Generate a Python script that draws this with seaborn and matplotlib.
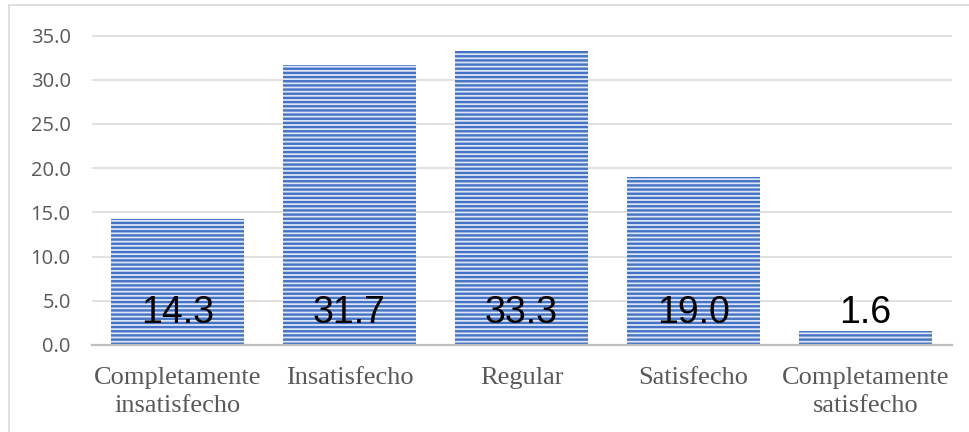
import matplotlib
matplotlib.use("Agg")
import matplotlib.pyplot as plt
from matplotlib.patches import Rectangle
from matplotlib.ticker import MultipleLocator, FormatStrFormatter
import seaborn as sns
import pandas as pd

categories = ["Completamente\ninsatisfecho", "Insatisfecho", "Regular",
              "Satisfecho", "Completamente\nsatisfecho"]
values = [14.3, 31.7, 33.3, 19.0, 1.6]
value_labels = ["14.3", "31.7", "33.3", "19.0", "1.6"]

sns.set_theme(style="white")
plt.rcParams["hatch.linewidth"] = 1.7

W, H = 969, 432
fig = plt.figure(figsize=(W / 100, H / 100), dpi=100)
ax = fig.add_axes([91.5 / W, 87 / H, 860 / W, 309.5 / H])

df = pd.DataFrame({"cat": categories, "val": values})
sns.barplot(data=df, x="cat", y="val", color="#dce6f7", saturation=1,
            width=0.773, ax=ax)

for p in ax.patches:
    p.set_hatch("----")
    p.set_edgecolor("#4472c4")
    p.set_linewidth(0)

ax.set_xlim(-0.5, 4.5)
ax.set_ylim(0, 35)
ax.yaxis.set_major_locator(MultipleLocator(5))
ax.yaxis.set_major_formatter(FormatStrFormatter("%.1f"))
ax.grid(axis="y", color="#d9d9d9", linewidth=1.1)
ax.set_axisbelow(True)
for s in ["left", "right", "top"]:
    ax.spines[s].set_visible(False)
ax.spines["bottom"].set_color("#bfbfbf")
ax.spines["bottom"].set_linewidth(1.6)
ax.set_xlabel("")
ax.set_ylabel("")

ax.tick_params(axis="y", length=0, pad=15, labelsize=14.5, labelcolor="#595959")
ax.tick_params(axis="x", length=0, pad=16)
for lbl in ax.get_yticklabels():
    lbl.set_fontfamily("Open Sans")
for lbl in ax.get_xticklabels():
    lbl.set_fontfamily("Liberation Serif")
    lbl.set_fontsize(19)
    lbl.set_color("#595959")
    lbl.set_multialignment("center")
    lbl.set_linespacing(1.35)

for i, txt in enumerate(value_labels):
    ax.text(i, 2.5, txt, ha="center", va="baseline", fontsize=27,
            family="Liberation Sans", color="black", zorder=5)

fig.add_artist(Rectangle((9 / W, -0.1), 1.2, 1.1 - 5 / H,
                         transform=fig.transFigure, fill=False,
                         edgecolor="#d9d9d9", linewidth=1.2))

fig.savefig("out.png", dpi=100)
